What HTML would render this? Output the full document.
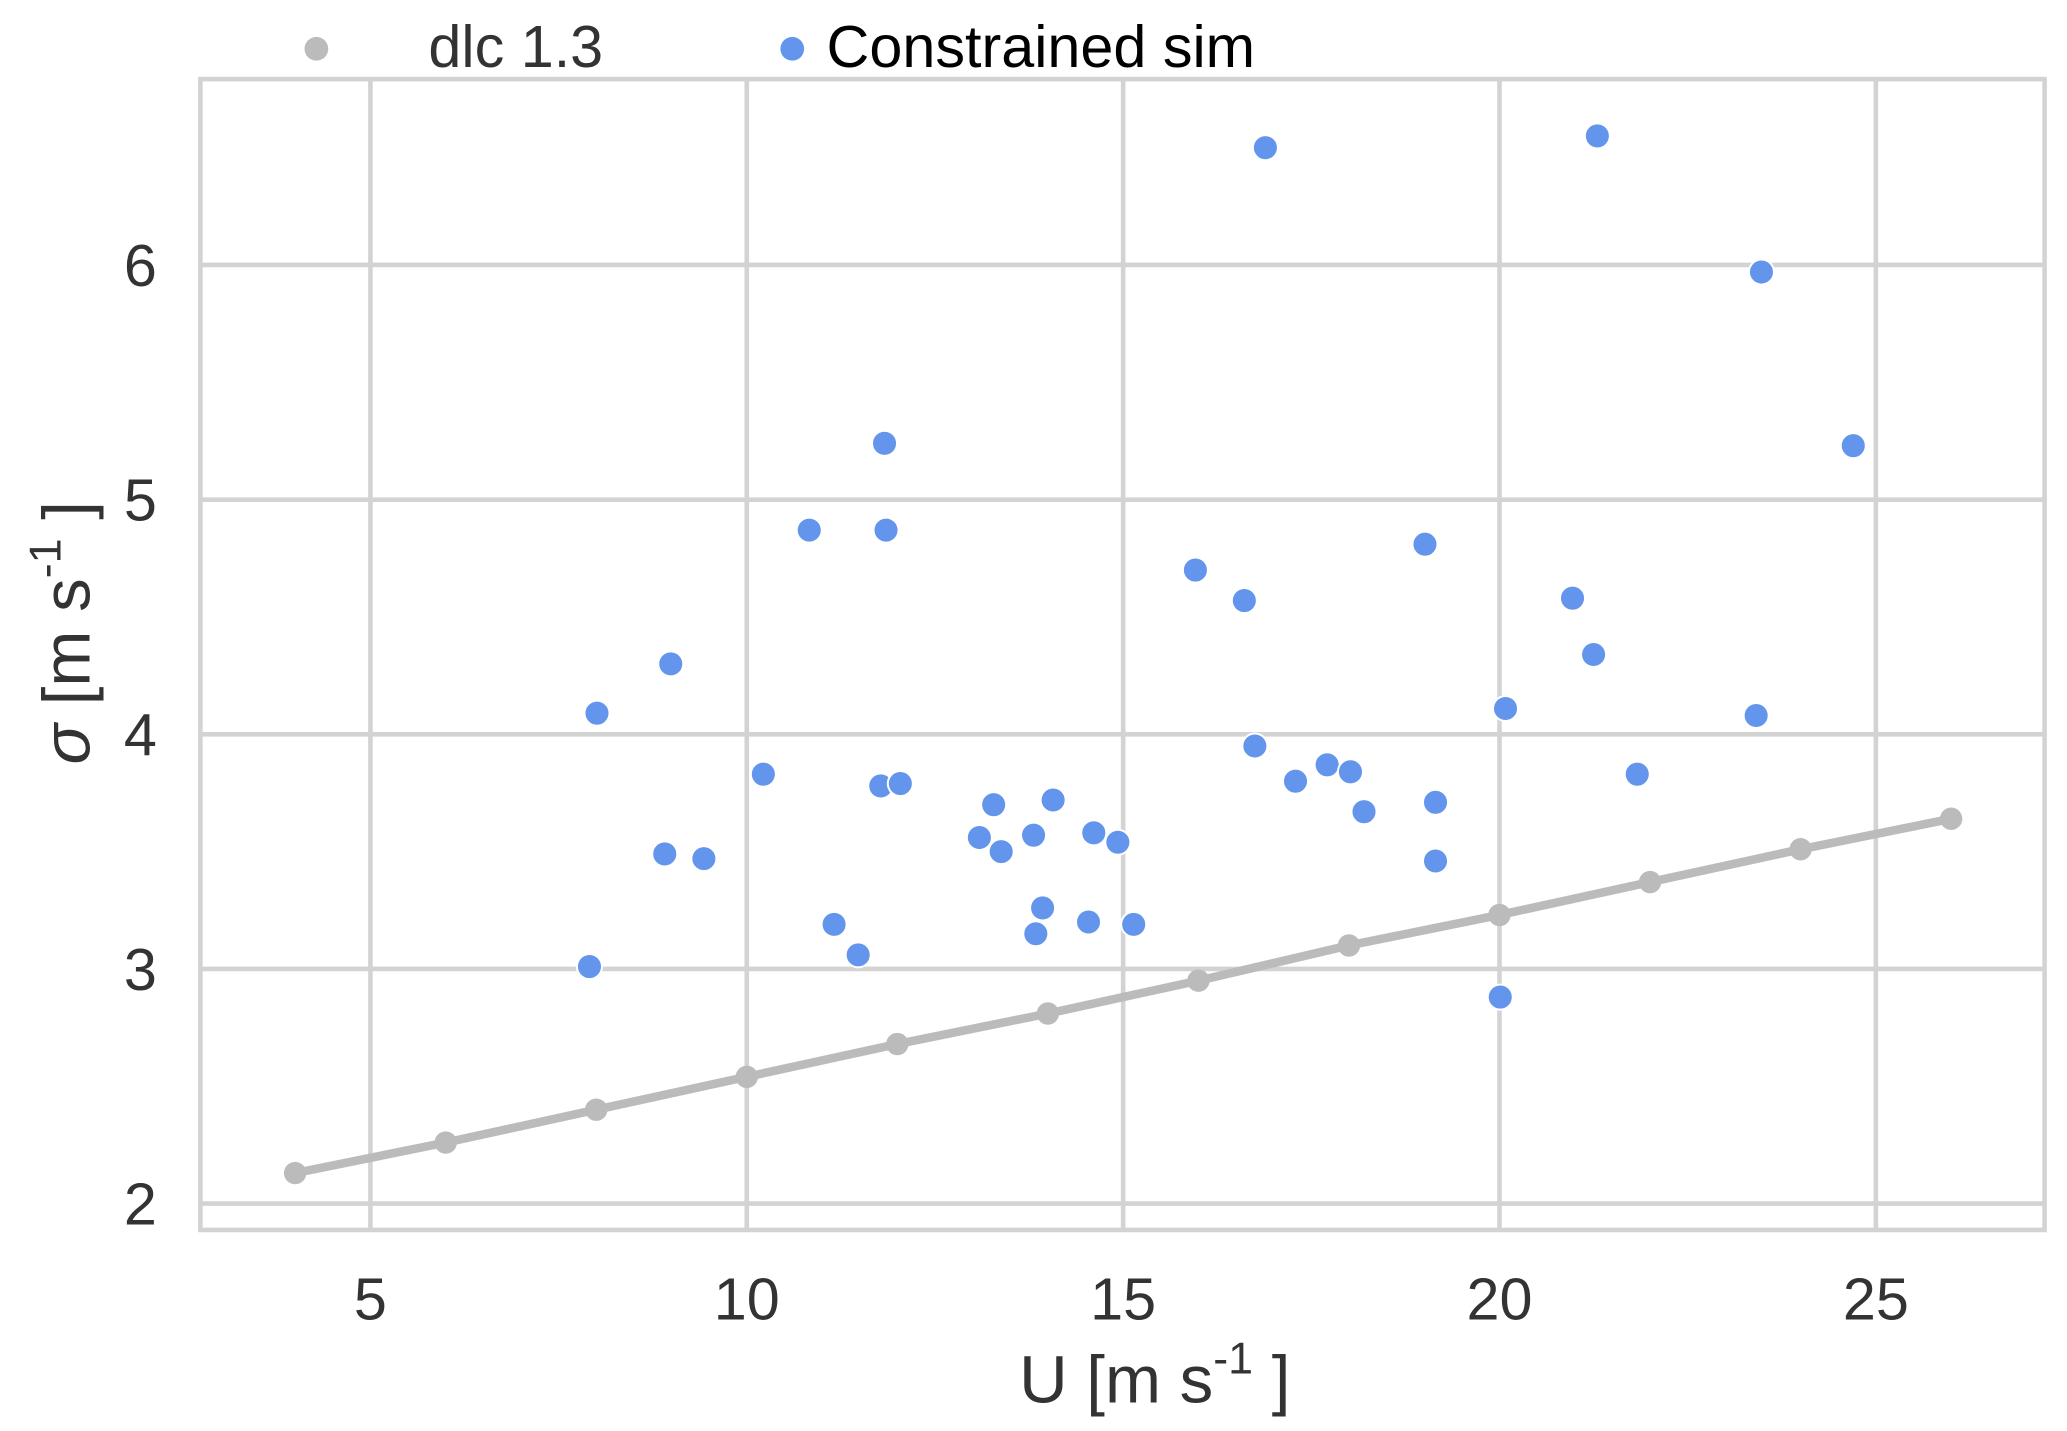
<!DOCTYPE html>
<html><head><meta charset="utf-8"><style>
html,body{margin:0;padding:0;background:#fff;}
svg{display:block;font-family:"Liberation Sans","DejaVu Sans",sans-serif;}
</style></head><body>
<svg id="chart" width="2067" height="1431" viewBox="0 0 1568 1085.5" xmlns="http://www.w3.org/2000/svg">
<g id="grid"></g>
<rect x="152" y="60" width="1399" height="873" fill="none" stroke="#d3d3d3" stroke-width="3.5"/>
<g id="ticks"></g>
<g id="marks"></g>
<text x="876" y="1064" font-size="51" fill="#333" text-anchor="middle">U [m s<tspan dy="-22" font-size="34">-1</tspan><tspan dy="22"> ]</tspan></text>
<text transform="translate(68,480) rotate(-90)" font-size="51" fill="#333" text-anchor="middle"><tspan font-style="italic">σ</tspan> [m s<tspan dy="-22" font-size="34">-1</tspan><tspan dy="22"> ]</tspan></text>
<g>
 <g>
  <circle cx="240" cy="37" r="9" fill="#bbbbbb"/>
  <text x="325" y="51" font-size="45" fill="#333">dlc 1.3</text>
 </g>
 <g>
  <circle cx="601" cy="37" r="9" fill="#6495ed"/>
  <text x="627" y="51" font-size="45" fill="#000">Constrained sim</text>
 </g>
</g>
</svg>
<script>
const xTicks = [5, 10, 15, 20, 25];
const yTicks = [2, 3, 4, 5, 6];
const dlcX = [4, 6, 8, 10, 12, 14, 16, 18, 20, 22, 24, 26];
const dlcY = [2.13, 2.26, 2.40, 2.54, 2.68, 2.81, 2.95, 3.10, 3.23, 3.37, 3.51, 3.64];
const simX = [16.89,21.30,23.48,24.70,11.83,10.83,11.85,19.01,15.96,16.61,20.97,21.25,8.99,8.01,20.08,23.41,16.75,10.22,21.83,17.71,18.02,17.29,11.78,12.04,13.28,14.07,19.15,18.20,13.09,13.81,14.61,14.93,13.38,8.91,9.43,19.15,13.93,11.16,14.54,15.14,13.84,11.48,7.91,20.01];
const simY = [6.50,6.55,5.97,5.23,5.24,4.87,4.87,4.81,4.70,4.57,4.58,4.34,4.30,4.09,4.11,4.08,3.95,3.83,3.83,3.87,3.84,3.80,3.78,3.79,3.70,3.72,3.71,3.67,3.56,3.57,3.58,3.54,3.50,3.49,3.47,3.46,3.26,3.19,3.20,3.19,3.15,3.06,3.01,2.88];

const NS = "http://www.w3.org/2000/svg";
function sx(v){ return 281 + (v - 5) * 57.1; }
function sy(v){ return 913 - (v - 2) * 178; }
function mk(tag, attrs, parent){
  const e = document.createElementNS(NS, tag);
  for (const k in attrs) e.setAttribute(k, attrs[k]);
  parent.appendChild(e); return e;
}
const grid = document.getElementById('grid');
const ticks = document.getElementById('ticks');
const marks = document.getElementById('marks');
xTicks.forEach(t => {
  const l = mk('line', {x1:sx(t), x2:sx(t), y1:60, y2:933, stroke:'#d3d3d3', 'stroke-width':3.5}, grid);
  
  
  const tx = mk('text', {x:sx(t), y:1001, 'font-size':45, fill:'#333', 'text-anchor':'middle'}, ticks);
  tx.textContent = t;
  
  
});
yTicks.forEach(t => {
  const l = mk('line', {x1:152, x2:1551, y1:sy(t), y2:sy(t), stroke:'#d3d3d3', 'stroke-width':3.5}, grid);
  
  
  const tx = mk('text', {x:119, y:sy(t)+16, 'font-size':45, fill:'#333', 'text-anchor':'end'}, ticks);
  tx.textContent = t;
  
  
});
const pts = dlcX.map((x,i) => sx(x) + ',' + sy(dlcY[i])).join(' ');
const line = mk('polyline', {points:pts, fill:'none', stroke:'#bbbbbb', 'stroke-width':6.5}, marks);


dlcX.forEach((x,i) => {
  const c = mk('circle', {cx:sx(x), cy:sy(dlcY[i]), r:8.5, fill:'#bbbbbb'}, marks);
  
  
});
simX.forEach((x,i) => {
  const c = mk('circle', {cx:sx(x), cy:sy(simY[i]), r:9.5, fill:'#6495ed', stroke:'#fff', 'stroke-width':1.5}, marks);
  
  
});
</script>
</body></html>
